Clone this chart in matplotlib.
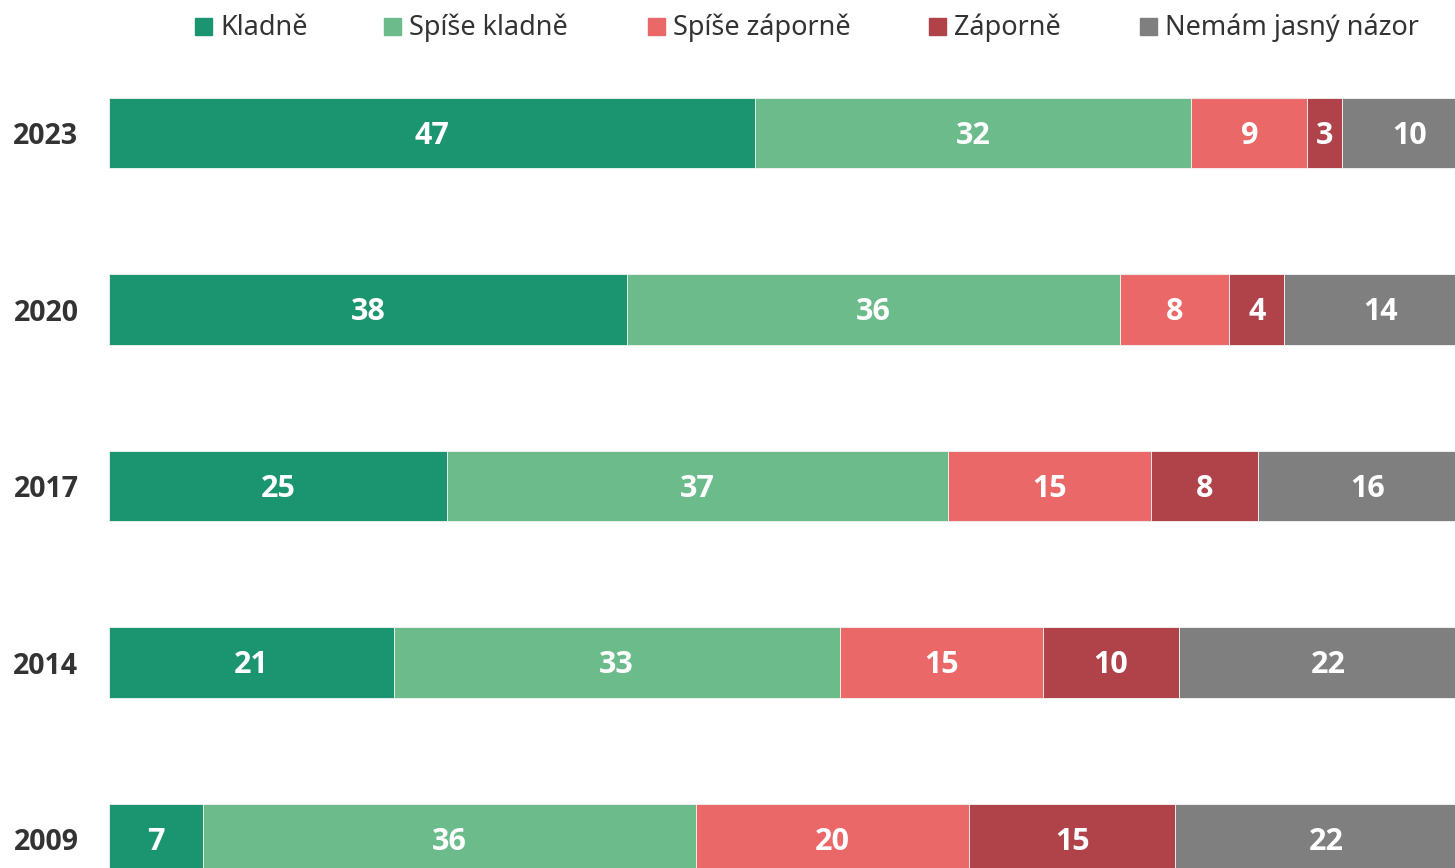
import matplotlib
matplotlib.use("Agg")
import matplotlib.pyplot as plt
import numpy as np
from matplotlib.patches import Rectangle
from matplotlib.font_manager import FontProperties

plt.rcParams['font.family'] = ['Noto Sans', 'DejaVu Sans']
bold_fp = dict(family=['Open Sans', 'DejaVu Sans'], weight='bold', stretch='normal')

years = ["2023", "2020", "2017", "2014", "2009"]
categories = ["Kladně", "Spíše kladně", "Spíše záporně", "Záporně", "Nemám jasný názor"]
kladne        = [47.2, 37.9, 24.7, 20.8, 6.9]
spise_kladne  = [31.9, 36.0, 36.6, 32.6, 36.0]
spise_zaporne = [8.5, 8.0, 14.9, 14.9, 20.0]
zaporne       = [2.5, 4.0, 7.8, 9.9, 15.0]
nemam_nazor   = [9.9, 14.1, 16.0, 21.8, 22.1]
series = [kladne, spise_kladne, spise_zaporne, zaporne, nemam_nazor]
colors = ["#1b9570", "#6bbb8b", "#ea6968", "#b0424a", "#7f7f7f"]

W, H = 1455, 868
fig = plt.figure(figsize=(W / 100, H / 100), dpi=100)

x0, x1 = 109, 1477
yc0, step = 133, 176.5
ytop = yc0 - step / 2
ybot = yc0 + 4 * step + step / 2
ax = fig.add_axes([x0 / W, 1 - ybot / H, (x1 - x0) / W, (ybot - ytop) / H])
ax.set_xlim(0, 100)
ax.set_ylim(4.5, -0.5)

ypos = np.arange(len(years))
left = np.zeros(len(years))
for vals, col, name in zip(series, colors, categories):
    vals = np.array(vals)
    ax.barh(ypos, vals, left=left, height=0.4, color=col, edgecolor="#f4f4f4",
            linewidth=0.6, label=name, clip_on=False)
    for y, l, v in zip(ypos, left, vals):
        ax.text(l + v / 2, y + 0.015, f"{int(np.floor(v + 0.5))}", ha="center", va="center",
                color="white", fontproperties=FontProperties(size=22, **bold_fp),
                clip_on=False)
    left += vals

ax.set_yticks(ypos)
ax.set_yticklabels(years, fontproperties=FontProperties(size=20.5, **bold_fp), color="#333333")
ax.tick_params(axis="y", length=0, pad=22)
ax.set_xticks([])
for s in ax.spines.values():
    s.set_visible(False)

leg_sq = [195, 384, 648, 929, 1140]
for xs, col, name in zip(leg_sq, colors, categories):
    fig.patches.append(Rectangle((xs / W, 1 - 35 / H), 17 / W, 17 / H,
                                 transform=fig.transFigure, color=col, figure=fig))
    fig.text((xs + 25) / W, 1 - 28 / H, name, ha="left", va="center",
             fontsize=19.5, color="#333333")

fig.savefig("out.png", dpi=100)
